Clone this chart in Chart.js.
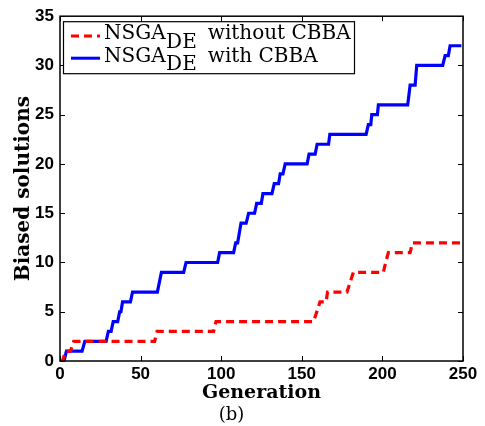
<!DOCTYPE html>
<html>
<head>
<meta charset="utf-8">
<script src="https://cdn.jsdelivr.net/npm/chart.js@4/dist/chart.umd.min.js"></script>
<style>
  html, body { margin: 0; padding: 0; background: #fff; }
  canvas { display: block; }
</style>
</head>
<body>
<canvas id="c" width="485" height="426"></canvas>
<script>
// ---- data ----
const xTicks = [0, 50, 100, 150, 200, 250];
const yTicks = [0, 5, 10, 15, 20, 25, 30, 35];

const redX = [0.5, 1.5, 3.5, 6.5, 8.5, 58.7, 60.2, 95.3, 96.8, 157.3, 159.3, 161.3, 165, 166, 178, 180, 182, 200.6, 202, 203.7, 217.2, 218.6, 249];
const redY = [0, 0, 1, 1, 2, 2, 3, 3, 4, 4, 5, 6, 6, 7, 7, 8, 9, 9, 10, 11, 11, 12, 12];

const blueX = [0.5, 2.5, 4, 13.7, 15.4, 28.6, 30, 31.7, 33, 35.8, 37, 37.8, 38.8, 43.7, 45, 60.4, 62.9, 76.7, 78.2, 97.8, 99, 107.7, 109, 110.2, 112.3, 115.5, 117, 120.7, 122, 124.9, 125.9, 131.5, 132.9, 135.6, 136.6, 138.3, 139.7, 153.3, 154.5, 158.3, 159.5, 166.6, 167.4, 189.9, 191.3, 192.8, 193.4, 196.9, 197.5, 215.7, 217.2, 220.3, 221.3, 237.4, 238.9, 240.9, 242, 249];
const blueY = [0, 0, 1, 1, 2, 2, 3, 3, 4, 4, 5, 5, 6, 6, 7, 7, 9, 9, 10, 10, 11, 11, 12, 12, 14, 14, 15, 15, 16, 16, 17, 17, 18, 18, 19, 19, 20, 20, 21, 21, 22, 22, 23, 23, 24, 24, 25, 25, 26, 26, 28, 28, 30, 30, 31, 31, 32, 32];

const seriesLabels = ['NSGA_DE without CBBA', 'NSGA_DE with CBBA'];
const legendMain = ['NSGA', 'NSGA'];
const legendSub = ['DE', 'DE'];
const legendRest = ['without CBBA', 'with CBBA'];
const xTitle = 'Generation';
const yTitle = 'Biased solutions';
const captionText = '(b)';

const toPoints = (xs, ys) => xs.map((x, i) => ({ x: x, y: ys[i] }));

const RED = '#ff0000';
const BLUE = '#0000ff';
const redDash = [8, 5];

const tickFont = { family: 'Liberation Sans, Arial, sans-serif', size: 17, weight: 'bold' };
const serif = 'DejaVu Serif, serif';

// box, inward ticks and legend
const framePlugin = {
  id: 'frame',
  afterDraw(chart) {
    const ctx = chart.ctx;
    const a = chart.chartArea;
    const xs = chart.scales.x, ys = chart.scales.y;
    ctx.save();
    ctx.strokeStyle = '#000';
    ctx.lineWidth = 1.5;
    ctx.strokeRect(a.left, a.top, a.right - a.left, a.bottom - a.top);
    ctx.lineWidth = 1;
    const tl = 5;
    ctx.beginPath();
    xTicks.forEach(v => {
      const px = Math.round(xs.getPixelForValue(v)) + 0.5;
      ctx.moveTo(px, a.bottom); ctx.lineTo(px, a.bottom - tl);
      ctx.moveTo(px, a.top); ctx.lineTo(px, a.top + tl);
    });
    yTicks.forEach(v => {
      const py = Math.round(ys.getPixelForValue(v)) + 0.5;
      ctx.moveTo(a.left, py); ctx.lineTo(a.left + tl, py);
      ctx.moveTo(a.right, py); ctx.lineTo(a.right - tl, py);
    });
    ctx.stroke();

    // legend
    const lx = a.left + 3, ly = a.top + 5, lw = 291, lh = 52;
    ctx.fillStyle = '#fff';
    ctx.fillRect(lx, ly, lw, lh);
    ctx.strokeStyle = '#000';
    ctx.lineWidth = 1.2;
    ctx.strokeRect(lx + 0.5, ly + 0.5, lw, lh);
    const rows = [14.7, 37];
    chart.data.datasets.forEach((ds, i) => {
      const cy = ly + rows[i];
      ctx.save();
      ctx.strokeStyle = ds.borderColor;
      ctx.lineWidth = 3;
      ctx.setLineDash(ds.borderDash || []);
      ctx.beginPath();
      ctx.moveTo(lx + 8, cy);
      ctx.lineTo(lx + 37, cy);
      ctx.stroke();
      ctx.restore();
      ctx.fillStyle = '#000';
      ctx.font = '20px ' + serif;
      ctx.textBaseline = 'alphabetic';
      ctx.textAlign = 'left';
      let tx = lx + 41;
      const by = cy + 3.5;
      ctx.fillText(legendMain[i], tx, by);
      tx += ctx.measureText(legendMain[i]).width + 0.5;
      ctx.fillText(legendSub[i], tx, by + 8.3);
      tx += ctx.measureText(legendSub[i]).width + 11;
      ctx.fillText(legendRest[i], tx, by);
    });
    ctx.restore();
  }
};

new Chart(document.getElementById('c'), {
  type: 'line',
  data: {
    datasets: [
      {
        label: seriesLabels[0],
        data: toPoints(redX, redY),
        borderColor: RED,
        backgroundColor: RED,
        borderWidth: 3.2,
        borderDash: redDash,
        pointRadius: 0,
        tension: 0,
        fill: false
      },
      {
        label: seriesLabels[1],
        data: toPoints(blueX, blueY),
        borderColor: BLUE,
        backgroundColor: BLUE,
        borderWidth: 3.2,
        pointRadius: 0,
        tension: 0,
        fill: false
      }
    ]
  },
  options: {
    responsive: false,
    animation: false,
    layout: { padding: { left: 0, right: 22, top: 12, bottom: 0 } },
    scales: {
      x: {
        type: 'linear',
        min: 0, max: 250,
        afterBuildTicks: s => { s.ticks = xTicks.map(v => ({ value: v })); },
        afterFit: s => { s.height = 43.4; },
        grid: { display: false, drawTicks: false },
        border: { display: false },
        ticks: { color: '#000', font: tickFont, padding: 3.5, maxRotation: 0 },
        title: {
          display: true, text: xTitle, color: '#000',
          font: { family: serif, size: 19, weight: 'bold' },
          padding: { top: 0, bottom: 0 }
        }
      },
      y: {
        type: 'linear',
        min: 0, max: 35,
        afterBuildTicks: s => { s.ticks = yTicks.map(v => ({ value: v })); },
        afterFit: s => { s.width = 60; },
        grid: { display: false, drawTicks: false },
        border: { display: false },
        ticks: { color: '#000', font: tickFont, padding: 6 },
        title: {
          display: true, text: yTitle, color: '#000',
          font: { family: serif, size: 20, weight: 'bold' },
          padding: { top: 12, bottom: 0 }
        }
      }
    },
    plugins: {
      legend: { display: false },
      tooltip: { enabled: false },
      title: {
        display: true, position: 'bottom', text: captionText, color: '#000',
        font: { family: serif, size: 18, weight: 'normal' },
        padding: 0
      }
    }
  },
  plugins: [framePlugin]
});
</script>
</body>
</html>
